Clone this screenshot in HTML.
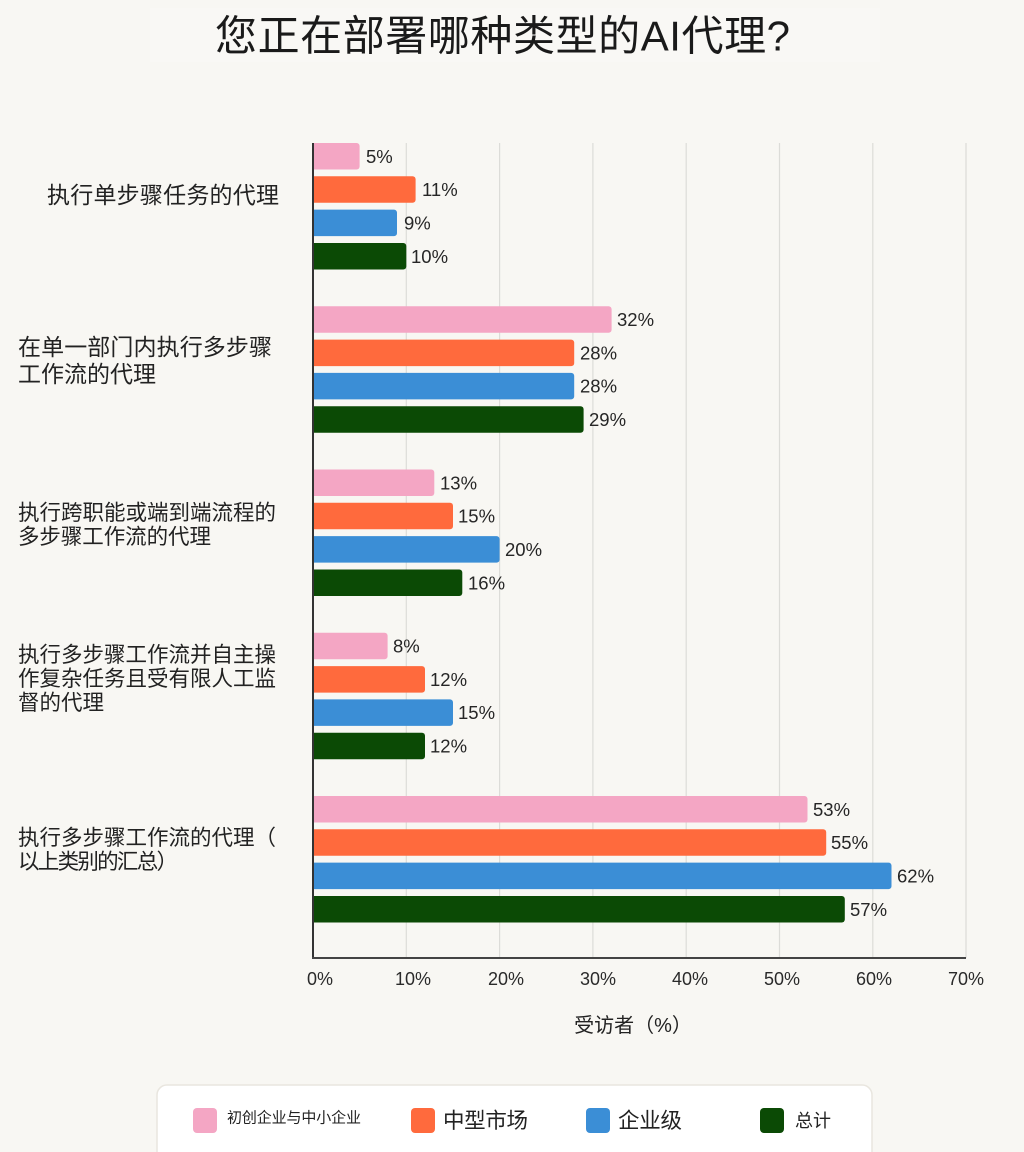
<!DOCTYPE html>
<html>
<head>
<meta charset="utf-8">
<style>
  html,body{margin:0;padding:0;background:#F8F7F3;}
  svg{display:block;}
  text{font-family:"Liberation Sans","Noto Sans CJK SC",sans-serif;}
</style>
</head>
<body>
<svg width="1024" height="1152" viewBox="0 0 1024 1152" xmlns="http://www.w3.org/2000/svg">
  <defs>
    <clipPath id="plot"><rect x="313" y="130" width="700" height="830"/></clipPath>
  </defs>
  <rect x="0" y="0" width="1024" height="1152" fill="#F8F7F3"/>
  <rect x="150" y="8" width="730" height="54" fill="#F9F8F5"/>
  <!-- Title -->
  <text x="215" y="36" font-size="42" fill="#1a1a1a" dominant-baseline="central" textLength="575">您正在部署哪种类型的AI代理?</text>

  <!-- gridlines -->
  <g stroke="#dcdcd8" stroke-width="1.2">
    <line x1="406.3" y1="143" x2="406.3" y2="958"/>
    <line x1="499.6" y1="143" x2="499.6" y2="958"/>
    <line x1="592.9" y1="143" x2="592.9" y2="958"/>
    <line x1="686.2" y1="143" x2="686.2" y2="958"/>
    <line x1="779.5" y1="143" x2="779.5" y2="958"/>
    <line x1="872.8" y1="143" x2="872.8" y2="958"/>
    <line x1="966" y1="143" x2="966" y2="958"/>
  </g>

  <!-- bars -->
  <g clip-path="url(#plot)">
    <rect x="305" y="143" width="54.6" height="26.5" rx="3" fill="#F4A6C4"/>
    <rect x="305" y="176.3" width="110.6" height="26.5" rx="3" fill="#FF6A3D"/>
    <rect x="305" y="209.6" width="92" height="26.5" rx="3" fill="#3B8ED6"/>
    <rect x="305" y="243" width="101.3" height="26.5" rx="3" fill="#0B4A05"/>

    <rect x="305" y="306.3" width="306.6" height="26.5" rx="3" fill="#F4A6C4"/>
    <rect x="305" y="339.6" width="269.2" height="26.5" rx="3" fill="#FF6A3D"/>
    <rect x="305" y="372.9" width="269.2" height="26.5" rx="3" fill="#3B8ED6"/>
    <rect x="305" y="406.3" width="278.6" height="26.5" rx="3" fill="#0B4A05"/>

    <rect x="305" y="469.5" width="129.3" height="26.5" rx="3" fill="#F4A6C4"/>
    <rect x="305" y="502.8" width="148" height="26.5" rx="3" fill="#FF6A3D"/>
    <rect x="305" y="536.1" width="194.6" height="26.5" rx="3" fill="#3B8ED6"/>
    <rect x="305" y="569.5" width="157.3" height="26.5" rx="3" fill="#0B4A05"/>

    <rect x="305" y="632.8" width="82.6" height="26.5" rx="3" fill="#F4A6C4"/>
    <rect x="305" y="666.1" width="120" height="26.5" rx="3" fill="#FF6A3D"/>
    <rect x="305" y="699.4" width="148" height="26.5" rx="3" fill="#3B8ED6"/>
    <rect x="305" y="732.8" width="120" height="26.5" rx="3" fill="#0B4A05"/>

    <rect x="305" y="796" width="502.5" height="26.5" rx="3" fill="#F4A6C4"/>
    <rect x="305" y="829.3" width="521.2" height="26.5" rx="3" fill="#FF6A3D"/>
    <rect x="305" y="862.6" width="586.5" height="26.5" rx="3" fill="#3B8ED6"/>
    <rect x="305" y="896" width="539.8" height="26.5" rx="3" fill="#0B4A05"/>
  </g>

  <!-- axes -->
  <line x1="313" y1="143" x2="313" y2="959" stroke="#333" stroke-width="2"/>
  <line x1="312" y1="958" x2="966" y2="958" stroke="#444" stroke-width="2"/>

  <!-- value labels -->
  <g font-size="18.5" fill="#262626" dominant-baseline="central">
    <text x="366" y="156.3">5%</text>
    <text x="422" y="189.6">11%</text>
    <text x="404" y="222.9">9%</text>
    <text x="411" y="256.3">10%</text>

    <text x="617" y="319.5">32%</text>
    <text x="580" y="352.9">28%</text>
    <text x="580" y="386.2">28%</text>
    <text x="589" y="419.5">29%</text>

    <text x="440" y="482.8">13%</text>
    <text x="458" y="516.1">15%</text>
    <text x="505" y="549.4">20%</text>
    <text x="468" y="582.8">16%</text>

    <text x="393" y="646">8%</text>
    <text x="430" y="679.4">12%</text>
    <text x="458" y="712.7">15%</text>
    <text x="430" y="746">12%</text>

    <text x="813" y="809.3">53%</text>
    <text x="831" y="842.6">55%</text>
    <text x="897" y="875.9">62%</text>
    <text x="850" y="909.3">57%</text>
  </g>

  <!-- category labels -->
  <g fill="#222" dominant-baseline="central">
    <text x="47" y="195" font-size="23" textLength="232">执行单步骤任务的代理</text>

    <text x="18" y="347" font-size="23" textLength="254">在单一部门内执行多步骤</text>
    <text x="18" y="374" font-size="23" textLength="138">工作流的代理</text>

    <text x="18" y="513" font-size="21.5" textLength="258">执行跨职能或端到端流程的</text>
    <text x="18" y="537" font-size="21.5" textLength="193">多步骤工作流的代理</text>

    <text x="18" y="655" font-size="21.5" textLength="258">执行多步骤工作流并自主操</text>
    <text x="18" y="679" font-size="21.5" textLength="258">作复杂任务且受有限人工监</text>
    <text x="18" y="703" font-size="21.5" textLength="86">督的代理</text>

    <text x="18" y="838" font-size="21.5" textLength="258">执行多步骤工作流的代理（</text>
    <text x="18" y="862" font-size="21.5" textLength="160">以上类别的汇总）</text>
  </g>

  <!-- tick labels -->
  <g font-size="18" fill="#2a2a2a" text-anchor="middle" dominant-baseline="central">
    <text x="320" y="979">0%</text>
    <text x="413" y="979">10%</text>
    <text x="506" y="979">20%</text>
    <text x="598" y="979">30%</text>
    <text x="690" y="979">40%</text>
    <text x="782" y="979">50%</text>
    <text x="874" y="979">60%</text>
    <text x="966" y="979">70%</text>
  </g>

  <!-- axis title -->
  <text x="633" y="1026" font-size="20" fill="#222" text-anchor="middle" dominant-baseline="central">受访者（%）</text>

  <!-- legend -->
  <rect x="157" y="1085" width="715" height="90" rx="10" fill="#FFFFFF" stroke="#E9E6DF" stroke-width="1.5"/>
  <rect x="193" y="1108" width="24" height="25" rx="4" fill="#F4A6C4"/>
  <text x="227" y="1118" font-size="15" fill="#222" dominant-baseline="central" textLength="134">初创企业与中小企业</text>
  <rect x="411" y="1108" width="24" height="25" rx="4" fill="#FF6A3D"/>
  <text x="443" y="1121" font-size="21.5" fill="#222" dominant-baseline="central" textLength="85">中型市场</text>
  <rect x="586" y="1108" width="24" height="25" rx="4" fill="#3B8ED6"/>
  <text x="618" y="1121" font-size="21.5" fill="#222" dominant-baseline="central" textLength="64">企业级</text>
  <rect x="760" y="1108" width="24" height="25" rx="4" fill="#0B4A05"/>
  <text x="795" y="1121" font-size="18" fill="#222" dominant-baseline="central" textLength="36">总计</text>
</svg>
</body>
</html>
